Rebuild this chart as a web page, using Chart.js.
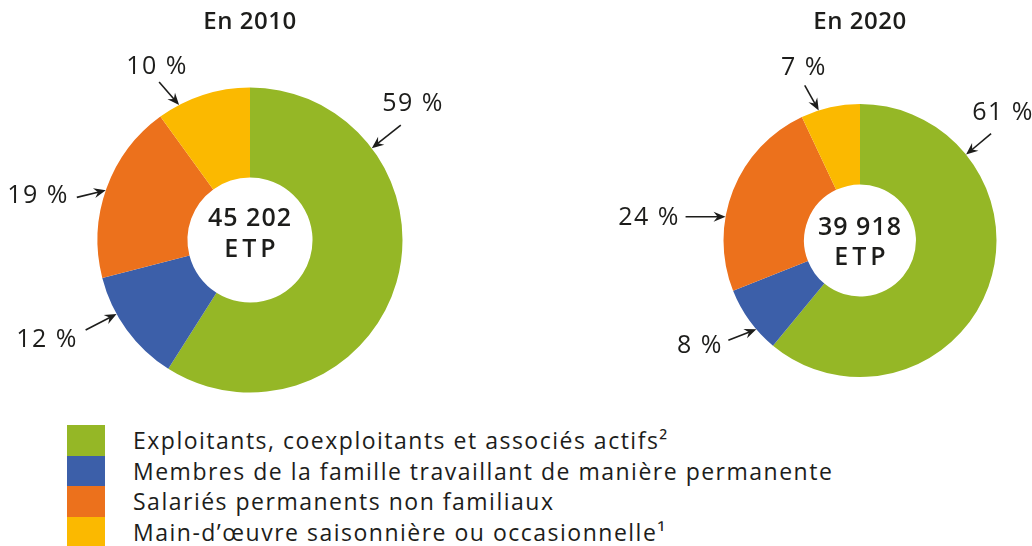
<!DOCTYPE html>
<html>
<head>
<meta charset="utf-8">
<script src="https://cdn.jsdelivr.net/npm/chart.js@4.4.1/dist/chart.umd.min.js"></script>
<style>
  body { margin: 0; background: #fff; width: 1032px; height: 546px; overflow: hidden; position: relative; font-family: "Open Sans", sans-serif; }
  .box { position: absolute; top: 0; width: 516px; height: 410px; }
  #legende { position: absolute; left: 67px; top: 425px; }
  .ligne { display: flex; align-items: center; height: 30.5px; }
  .carre { width: 38px; height: 30.5px; }
  .txt { margin-left: 28px; font-size: 23px; letter-spacing: 1.5px; color: #1d1d1b; white-space: nowrap; }
</style>
</head>
<body>
<div class="box" style="left:0"><canvas id="c2010"></canvas></div>
<div class="box" style="left:516px"><canvas id="c2020"></canvas></div>
<div id="legende"></div>

<script>
// donnees
const categories = [
  "Exploitants, coexploitants et associés actifs²",
  "Membres de la famille travaillant de manière permanente",
  "Salariés permanents non familiaux",
  "Main-d’œuvre saisonnière ou occasionnelle¹"
];
const valeurs2010 = [59, 12, 19, 10];
const valeurs2020 = [61, 8, 24, 7];
const total2010 = "45 202";
const total2020 = "39 918";
const couleurs = ["#95b726", "#3c5fa9", "#ec711c", "#fbb900"];

// etiquettes : angle de la pointe (deg), decalage de la queue, position du texte / centre
const etiq2010 = [
  { angle: 53, queue: [29, -23], texte: [163, -136] },
  { angle: -119, queue: [-31, 16], texte: [-203, 100] },
  { angle: -71, queue: [-29, 7], texte: [-212, -44] },
  { angle: -27.7, queue: [-20, -23], texte: [-93, -173] }
];
const etiq2020 = [
  { angle: 51, queue: [25, -21], texte: [143, -128] },
  { angle: -130.6, queue: [-28, 11], texte: [-160, 105] },
  { angle: -80, queue: [-40, 0], texte: [-211, -23] },
  { angle: -17.6, queue: [-14, -25], texte: [-56, -173] }
];

const police = '"Open Sans", sans-serif';

function fleche(ctx, x1, y1, x2, y2) {
  let a = Math.atan2(y2 - y1, x2 - x1);
  ctx.strokeStyle = '#1d1d1b';
  ctx.fillStyle = '#1d1d1b';
  ctx.lineWidth = 1.6;
  ctx.beginPath();
  ctx.moveTo(x1, y1);
  ctx.lineTo(x2 - 6 * Math.cos(a), y2 - 6 * Math.sin(a));
  ctx.stroke();
  ctx.beginPath();
  ctx.moveTo(x2, y2);
  ctx.lineTo(x2 - 12 * Math.cos(a) + 5 * Math.sin(a), y2 - 12 * Math.sin(a) - 5 * Math.cos(a));
  ctx.lineTo(x2 - 8 * Math.cos(a), y2 - 8 * Math.sin(a));
  ctx.lineTo(x2 - 12 * Math.cos(a) - 5 * Math.sin(a), y2 - 12 * Math.sin(a) + 5 * Math.cos(a));
  ctx.closePath();
  ctx.fill();
}

const pluginEtiquettes = {
  id: 'etiquettes',
  afterDraw(chart, args, opts) {
    const ctx = chart.ctx;
    const meta = chart.getDatasetMeta(0);
    const arc = meta.data[0];
    const cx = arc.x, cy = arc.y, R = arc.outerRadius;
    const valeurs = chart.data.datasets[0].data;
    ctx.save();
    // titre
    ctx.fillStyle = '#1d1d1b';
    ctx.textAlign = 'center';
    ctx.textBaseline = 'middle';
    ctx.font = '600 24px ' + police;
    ctx.letterSpacing = '0.5px';
    ctx.fillText(opts.titre, cx, 22);
    // centre
    ctx.font = '600 25px ' + police;
    ctx.letterSpacing = '1px';
    ctx.fillText(opts.total, cx, cy + opts.decalCentre[0]);
    ctx.letterSpacing = '4px';
    ctx.fillText('ETP', cx + 2, cy + opts.decalCentre[1]);
    // pourcentages + fleches
    ctx.font = '25px ' + police;
    ctx.letterSpacing = '1.5px';
    opts.etiquettes.forEach((e, i) => {
      const a = e.angle * Math.PI / 180;
      const tx = cx + R * Math.sin(a);
      const ty = cy - R * Math.cos(a);
      fleche(ctx, tx + e.queue[0], ty + e.queue[1], tx, ty);
      ctx.fillText(valeurs[i] + ' %', cx + e.texte[0], cy + e.texte[1]);
    });
    ctx.restore();
  }
};

function dessinerAnneau(cible, valeurs, titre, total, etiquettes, marge, decalCentre) {
  return new Chart(cible, {
    type: 'doughnut',
    data: {
      labels: categories,
      datasets: [{
        data: valeurs,
        backgroundColor: couleurs,
        borderWidth: 0,
        hoverOffset: 0
      }]
    },
    options: {
      responsive: true,
      maintainAspectRatio: false,
      animation: false,
      events: [],
      cutout: '41%',
      layout: { padding: marge },
      plugins: {
        legend: { display: false },
        tooltip: { enabled: false },
        etiquettes: { titre: titre, total: total, etiquettes: etiquettes, decalCentre: decalCentre }
      }
    },
    plugins: [pluginEtiquettes]
  });
}

dessinerAnneau(document.getElementById('c2010'), valeurs2010, 'En 2010', total2010, etiq2010,
  { left: 97.5, right: 113.5, top: 87.5, bottom: 17.5 }, [-21, 10]);
dessinerAnneau(document.getElementById('c2020'), valeurs2020, 'En 2020', total2020, etiq2020,
  { left: 207.5, right: 35.5, top: 104, bottom: 33 }, [-13, 17]);

// legende
const leg = document.getElementById('legende');
categories.forEach((c, i) => {
  const l = document.createElement('div');
  l.className = 'ligne';
  l.innerHTML = '<div class="carre" style="background:' + couleurs[i] + '"></div><span class="txt">' + c + '</span>';
  leg.appendChild(l);
});
</script>
</body>
</html>
